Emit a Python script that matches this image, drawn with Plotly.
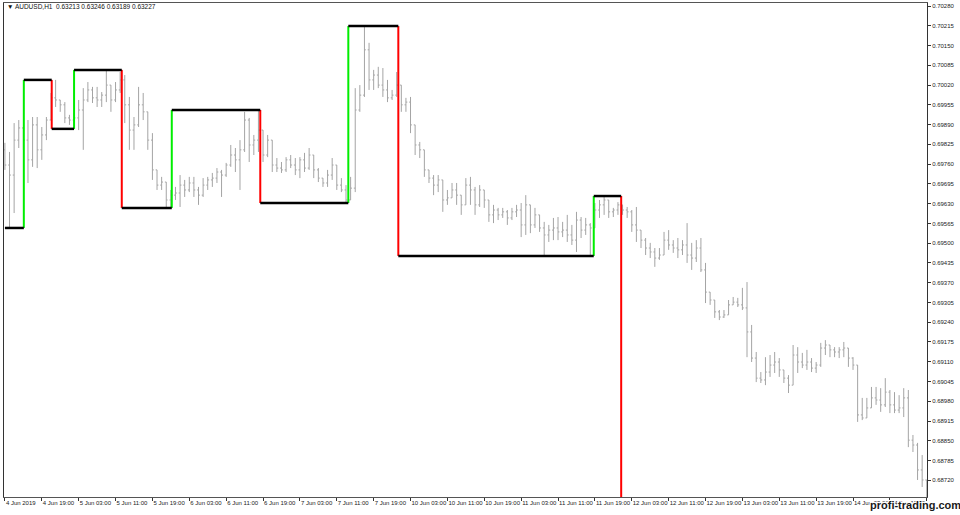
import plotly.graph_objects as go

# ---------------- data ----------------
bar_index = list(range(201))

open_ = [
    0.69807, 0.69757, 0.69724, 0.69839, 0.69879, 0.69839, 0.69774, 0.69889, 0.69807, 0.69856,
    0.69905, 0.69978, 0.69971, 0.69955, 0.69912, 0.69905, 0.69912, 0.69938, 0.69971, 0.70004,
    0.69978, 0.69971, 0.69987, 0.70020, 0.69971, 0.70004, 0.70037, 0.69955, 0.69872, 0.69889,
    0.69955, 0.69932, 0.69839, 0.69741, 0.69691, 0.69701, 0.69642, 0.69658, 0.69665, 0.69691,
    0.69675, 0.69698, 0.69675, 0.69658, 0.69691, 0.69708, 0.69714, 0.69734, 0.69724, 0.69757,
    0.69790, 0.69774, 0.69807, 0.69905, 0.69823, 0.69839, 0.69872, 0.69790, 0.69839, 0.69757,
    0.69747, 0.69741, 0.69774, 0.69757, 0.69741, 0.69774, 0.69747, 0.69790, 0.69741, 0.69714,
    0.69698, 0.69724, 0.69757, 0.69691, 0.69675, 0.69642, 0.69681, 0.69938, 0.69987, 0.70136,
    0.70037, 0.70053, 0.70020, 0.70004, 0.69978, 0.69987, 0.70020, 0.69955, 0.69964, 0.69889,
    0.69823, 0.69807, 0.69741, 0.69714, 0.69691, 0.69708, 0.69642, 0.69649, 0.69675, 0.69658,
    0.69626, 0.69691, 0.69675, 0.69626, 0.69675, 0.69642, 0.69593, 0.69609, 0.69593, 0.69603,
    0.69583, 0.69603, 0.69609, 0.69560, 0.69626, 0.69560, 0.69593, 0.69550, 0.69527, 0.69543,
    0.69550, 0.69537, 0.69543, 0.69527, 0.69510, 0.69576, 0.69543, 0.69560, 0.69550, 0.69609,
    0.69626, 0.69642, 0.69603, 0.69609, 0.69626, 0.69609, 0.69603, 0.69560, 0.69543, 0.69510,
    0.69484, 0.69471, 0.69451, 0.69461, 0.69510, 0.69494, 0.69484, 0.69478, 0.69494, 0.69461,
    0.69451, 0.69484, 0.69412, 0.69339, 0.69313, 0.69274, 0.69257, 0.69264, 0.69297, 0.69306,
    0.69297, 0.69287, 0.69208, 0.69122, 0.69056, 0.69050, 0.69076, 0.69099, 0.69109, 0.69083,
    0.69056, 0.69033, 0.69132, 0.69109, 0.69099, 0.69109, 0.69089, 0.69099, 0.69155, 0.69165,
    0.69149, 0.69142, 0.69149, 0.69155, 0.69122, 0.69099, 0.68935, 0.68925, 0.68958, 0.68991,
    0.68984, 0.68968, 0.69010, 0.68968, 0.68951, 0.68958, 0.68991, 0.68852, 0.68836, 0.68754,
    0.68721,
]

high = [
    0.69830, 0.69800, 0.69895, 0.69905, 0.69879, 0.69905, 0.69915, 0.69915, 0.69882, 0.69915,
    0.69994, 0.70037, 0.69971, 0.69964, 0.69922, 0.69928, 0.69971, 0.70010, 0.70030, 0.70014,
    0.70014, 0.69997, 0.70070, 0.70020, 0.70030, 0.70063, 0.70053, 0.69981, 0.69915, 0.70014,
    0.69994, 0.69932, 0.69862, 0.69741, 0.69718, 0.69701, 0.69675, 0.69685, 0.69724, 0.69708,
    0.69718, 0.69718, 0.69685, 0.69714, 0.69718, 0.69731, 0.69747, 0.69741, 0.69764, 0.69823,
    0.69813, 0.69839, 0.69932, 0.69912, 0.69856, 0.69938, 0.69872, 0.69856, 0.69839, 0.69780,
    0.69767, 0.69783, 0.69790, 0.69780, 0.69783, 0.69797, 0.69813, 0.69790, 0.69747, 0.69714,
    0.69741, 0.69780, 0.69757, 0.69714, 0.69691, 0.69718, 0.70010, 0.70020, 0.70211, 0.70159,
    0.70070, 0.70080, 0.70076, 0.70037, 0.70004, 0.70063, 0.70020, 0.69978, 0.69981, 0.69889,
    0.69833, 0.69807, 0.69741, 0.69724, 0.69724, 0.69708, 0.69675, 0.69698, 0.69698, 0.69658,
    0.69714, 0.69718, 0.69685, 0.69691, 0.69675, 0.69642, 0.69626, 0.69616, 0.69616, 0.69609,
    0.69616, 0.69626, 0.69632, 0.69658, 0.69626, 0.69616, 0.69593, 0.69570, 0.69560, 0.69583,
    0.69586, 0.69570, 0.69593, 0.69560, 0.69603, 0.69586, 0.69583, 0.69566, 0.69632, 0.69642,
    0.69655, 0.69642, 0.69616, 0.69635, 0.69626, 0.69619, 0.69609, 0.69619, 0.69543, 0.69517,
    0.69501, 0.69484, 0.69484, 0.69537, 0.69543, 0.69510, 0.69517, 0.69510, 0.69566, 0.69501,
    0.69510, 0.69517, 0.69435, 0.69339, 0.69313, 0.69280, 0.69280, 0.69313, 0.69323, 0.69320,
    0.69353, 0.69372, 0.69231, 0.69142, 0.69076, 0.69125, 0.69132, 0.69142, 0.69122, 0.69083,
    0.69066, 0.69165, 0.69158, 0.69139, 0.69149, 0.69122, 0.69109, 0.69172, 0.69181, 0.69165,
    0.69158, 0.69158, 0.69175, 0.69155, 0.69125, 0.69099, 0.68991, 0.68991, 0.69027, 0.69027,
    0.69023, 0.69056, 0.69017, 0.69010, 0.69000, 0.69023, 0.69017, 0.68869, 0.68843, 0.68803,
    0.68721,
]

low = [
    0.69741, 0.69550, 0.69599, 0.69813, 0.69807, 0.69698, 0.69751, 0.69747, 0.69774, 0.69839,
    0.69905, 0.69948, 0.69932, 0.69895, 0.69889, 0.69876, 0.69872, 0.69807, 0.69964, 0.69961,
    0.69948, 0.69948, 0.69964, 0.69932, 0.69964, 0.69994, 0.69895, 0.69807, 0.69807, 0.69882,
    0.69905, 0.69807, 0.69708, 0.69675, 0.69675, 0.69616, 0.69616, 0.69642, 0.69619, 0.69652,
    0.69668, 0.69652, 0.69626, 0.69652, 0.69675, 0.69685, 0.69698, 0.69652, 0.69718, 0.69751,
    0.69734, 0.69675, 0.69800, 0.69767, 0.69790, 0.69800, 0.69767, 0.69783, 0.69734, 0.69734,
    0.69731, 0.69734, 0.69747, 0.69724, 0.69714, 0.69734, 0.69741, 0.69714, 0.69701, 0.69685,
    0.69685, 0.69708, 0.69675, 0.69668, 0.69632, 0.69642, 0.69668, 0.69932, 0.69981, 0.70004,
    0.70004, 0.70010, 0.69981, 0.69964, 0.69971, 0.69981, 0.69932, 0.69932, 0.69862, 0.69790,
    0.69780, 0.69718, 0.69698, 0.69658, 0.69668, 0.69603, 0.69626, 0.69649, 0.69626, 0.69593,
    0.69626, 0.69626, 0.69593, 0.69619, 0.69616, 0.69570, 0.69566, 0.69576, 0.69583, 0.69560,
    0.69576, 0.69586, 0.69520, 0.69527, 0.69533, 0.69550, 0.69537, 0.69461, 0.69504, 0.69510,
    0.69510, 0.69520, 0.69504, 0.69494, 0.69471, 0.69517, 0.69527, 0.69458, 0.69550, 0.69583,
    0.69593, 0.69583, 0.69586, 0.69593, 0.69593, 0.69583, 0.69537, 0.69504, 0.69484, 0.69461,
    0.69451, 0.69422, 0.69445, 0.69461, 0.69478, 0.69468, 0.69451, 0.69461, 0.69435, 0.69412,
    0.69438, 0.69405, 0.69303, 0.69297, 0.69254, 0.69247, 0.69254, 0.69264, 0.69297, 0.69290,
    0.69280, 0.69125, 0.69109, 0.69043, 0.69040, 0.69033, 0.69060, 0.69073, 0.69060, 0.69040,
    0.69007, 0.69033, 0.69073, 0.69089, 0.69083, 0.69076, 0.69073, 0.69093, 0.69132, 0.69125,
    0.69125, 0.69122, 0.69125, 0.69093, 0.69083, 0.68912, 0.68918, 0.68925, 0.68958, 0.68968,
    0.68945, 0.68961, 0.68941, 0.68941, 0.68941, 0.68928, 0.68829, 0.68813, 0.68721, 0.68698,
    0.68622,
]

close = [
    0.69757, 0.69724, 0.69839, 0.69879, 0.69839, 0.69774, 0.69889, 0.69807, 0.69856, 0.69905,
    0.69978, 0.69971, 0.69955, 0.69912, 0.69905, 0.69912, 0.69938, 0.69971, 0.70004, 0.69978,
    0.69971, 0.69987, 0.70020, 0.69971, 0.70004, 0.70037, 0.69955, 0.69872, 0.69889, 0.69955,
    0.69932, 0.69839, 0.69741, 0.69691, 0.69701, 0.69642, 0.69658, 0.69665, 0.69691, 0.69675,
    0.69698, 0.69675, 0.69658, 0.69691, 0.69708, 0.69714, 0.69734, 0.69724, 0.69757, 0.69790,
    0.69774, 0.69807, 0.69905, 0.69823, 0.69839, 0.69872, 0.69790, 0.69839, 0.69757, 0.69747,
    0.69741, 0.69774, 0.69757, 0.69741, 0.69774, 0.69747, 0.69790, 0.69741, 0.69714, 0.69698,
    0.69724, 0.69757, 0.69691, 0.69675, 0.69642, 0.69681, 0.69938, 0.69987, 0.70136, 0.70037,
    0.70053, 0.70020, 0.70004, 0.69978, 0.69987, 0.70020, 0.69955, 0.69964, 0.69889, 0.69823,
    0.69807, 0.69741, 0.69714, 0.69691, 0.69708, 0.69642, 0.69649, 0.69675, 0.69658, 0.69626,
    0.69691, 0.69675, 0.69626, 0.69675, 0.69642, 0.69593, 0.69609, 0.69593, 0.69603, 0.69583,
    0.69603, 0.69609, 0.69560, 0.69626, 0.69560, 0.69593, 0.69550, 0.69527, 0.69543, 0.69550,
    0.69537, 0.69543, 0.69527, 0.69510, 0.69576, 0.69543, 0.69560, 0.69550, 0.69609, 0.69626,
    0.69642, 0.69603, 0.69609, 0.69626, 0.69609, 0.69603, 0.69560, 0.69543, 0.69510, 0.69484,
    0.69471, 0.69451, 0.69461, 0.69510, 0.69494, 0.69484, 0.69478, 0.69494, 0.69461, 0.69451,
    0.69484, 0.69412, 0.69339, 0.69313, 0.69274, 0.69257, 0.69264, 0.69297, 0.69306, 0.69297,
    0.69287, 0.69208, 0.69122, 0.69056, 0.69050, 0.69076, 0.69099, 0.69109, 0.69083, 0.69056,
    0.69033, 0.69132, 0.69109, 0.69099, 0.69109, 0.69089, 0.69099, 0.69155, 0.69165, 0.69149,
    0.69142, 0.69149, 0.69155, 0.69122, 0.69099, 0.68935, 0.68925, 0.68958, 0.68991, 0.68984,
    0.68968, 0.69010, 0.68968, 0.68951, 0.68958, 0.68991, 0.68852, 0.68836, 0.68754, 0.68721,
    0.68671,
]

# step indicator: bar positions where the level changes, and the levels
level_x = [0, 4.1, 10.15, 15.0, 25.35, 36.2, 55.4, 74.5, 85.35, 127.75, 133.7]
level_y = [0.69550, 0.70037, 0.69876, 0.70070, 0.69616, 0.69938, 0.69632, 0.70214, 0.69458, 0.69655, 0.68600]

x_tick_pos = [0, 8, 16, 24, 32, 40, 48, 56, 64, 72, 80, 88, 96, 104, 112, 120, 128,
              136, 144, 152, 160, 168, 176, 184, 192, 200]
x_tick_text = ["4 Jun 2019", "4 Jun 19:00", "5 Jun 03:00", "5 Jun 11:00", "5 Jun 19:00",
               "6 Jun 03:00", "6 Jun 11:00", "6 Jun 19:00", "7 Jun 03:00", "7 Jun 11:00",
               "7 Jun 19:00", "10 Jun 03:00", "10 Jun 11:00", "10 Jun 19:00", "11 Jun 03:00",
               "11 Jun 11:00", "11 Jun 19:00", "12 Jun 03:00", "12 Jun 11:00", "12 Jun 19:00",
               "13 Jun 03:00", "13 Jun 11:00", "13 Jun 19:00", "14 Jun 03:00", "14 Jun 11:00",
               "14 Jun 19:00"]
y_ticks = [0.68655, 0.68720, 0.68785, 0.68850, 0.68915, 0.68980, 0.69045, 0.69110, 0.69175,
           0.69240, 0.69305, 0.69370, 0.69435, 0.69500, 0.69565, 0.69630, 0.69695, 0.69760,
           0.69825, 0.69890, 0.69955, 0.70020, 0.70085, 0.70150, 0.70215, 0.70280]

# ---------------- figure ----------------
fig = go.Figure()

bar_col = "#a4a4a4"
fig.add_trace(go.Ohlc(
    x=bar_index, open=open_, high=high, low=low, close=close,
    increasing=dict(line=dict(color=bar_col, width=1)),
    decreasing=dict(line=dict(color=bar_col, width=1)),
    tickwidth=0.3, hoverinfo="skip", showlegend=False,
))

# build step segments from the level data
hx, hy, gx, gy, rx, ry = [], [], [], [], [], []
for k in range(len(level_x) - 1):
    hx += [level_x[k], level_x[k + 1], None]
    hy += [level_y[k], level_y[k], None]
    if level_y[k + 1] > level_y[k]:
        gx += [level_x[k + 1], level_x[k + 1], None]
        gy += [level_y[k], level_y[k + 1], None]
    else:
        rx += [level_x[k + 1], level_x[k + 1], None]
        ry += [level_y[k], level_y[k + 1], None]

fig.add_trace(go.Scatter(x=gx, y=gy, mode="lines", line=dict(color="#00ee00", width=2),
                         hoverinfo="skip", showlegend=False))
fig.add_trace(go.Scatter(x=rx, y=ry, mode="lines", line=dict(color="#ff0000", width=2),
                         hoverinfo="skip", showlegend=False))
fig.add_trace(go.Scatter(x=hx, y=hy, mode="lines", line=dict(color="#000000", width=2.5),
                         hoverinfo="skip", showlegend=False))

tick_font = dict(family="Liberation Sans, Arial, sans-serif", size=6, color="#222222")

fig.update_layout(
    width=960, height=515,
    margin=dict(l=4, r=33, t=3, b=18, autoexpand=False),
    paper_bgcolor="white", plot_bgcolor="white",
    showlegend=False,
    xaxis=dict(
        range=[-0.2, 200.05], rangeslider=dict(visible=False),
        tickmode="array", tickvals=x_tick_pos, ticktext=x_tick_text,
        ticklabelposition="outside right", tickangle=0, automargin=False,
        ticks="outside", ticklen=3, tickcolor="#333", tickwidth=1,
        showgrid=False, zeroline=False,
        showline=True, linecolor="#555555", linewidth=1, mirror=True,
        tickfont=tick_font, fixedrange=True,
    ),
    yaxis=dict(
        side="right", range=[0.68665, 0.70290], automargin=False,
        tickmode="array", tickvals=y_ticks, ticktext=[f"{v:.5f}" for v in y_ticks],
        ticks="outside", ticklen=3, tickcolor="#333", tickwidth=1,
        showgrid=False, zeroline=False,
        showline=True, linecolor="#333333", linewidth=1, mirror=True,
        tickfont=tick_font, fixedrange=True,
    ),
    annotations=[
        dict(text="\u25bc AUDUSD,H1  0.63213 0.63246 0.63189 0.63227",
             xref="paper", yref="paper", x=0.001, y=0.992, xanchor="left", yanchor="middle",
             showarrow=False, font=dict(family="Liberation Sans, Arial, sans-serif", size=6.5,
                                        color="#111111")),
        dict(text="<b>profi-trading.com</b>",
             xref="paper", yref="paper", x=0.988, y=-0.017, xanchor="center", yanchor="middle",
             showarrow=False,
             font=dict(family="Liberation Sans, Arial, sans-serif", size=11, color="#1a1a1a",
                       shadow="-1px -1px 0 #fff, 1px -1px 0 #fff, -1px 1px 0 #fff, 1px 1px 0 #fff, 0 0 2px #fff")),
    ],
)

fig.write_html("out.html", config={"displayModeBar": False},
               post_script="document.body.style.margin='0';document.body.style.padding='0';")
